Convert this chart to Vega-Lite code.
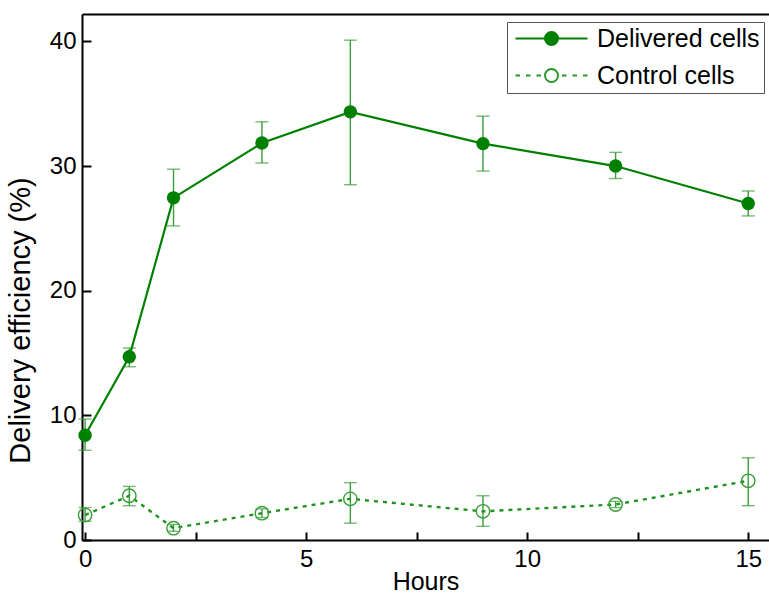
{
  "$schema": "https://vega.github.io/schema/vega-lite/v6.json",
  "width": 687,
  "height": 526,
  "autosize": {"type": "none"},
  "padding": {"left": 82, "top": 14, "right": 0, "bottom": 54},
  "background": "white",
  "data": {
    "values": [
      {"hours": 0, "series": "Delivered cells", "mean": 8.4, "lo": 7.2, "hi": 9.7},
      {"hours": 1, "series": "Delivered cells", "mean": 14.7, "lo": 13.9, "hi": 15.4},
      {"hours": 2, "series": "Delivered cells", "mean": 27.45, "lo": 25.2, "hi": 29.75},
      {"hours": 4, "series": "Delivered cells", "mean": 31.85, "lo": 30.25, "hi": 33.55},
      {"hours": 6, "series": "Delivered cells", "mean": 34.35, "lo": 28.5, "hi": 40.1},
      {"hours": 9, "series": "Delivered cells", "mean": 31.8, "lo": 29.6, "hi": 34.0},
      {"hours": 12, "series": "Delivered cells", "mean": 30.0, "lo": 29.0, "hi": 31.1},
      {"hours": 15, "series": "Delivered cells", "mean": 27.0, "lo": 26.0, "hi": 28.0},
      {"hours": 0, "series": "Control cells", "mean": 2.0, "lo": 1.5, "hi": 2.6},
      {"hours": 1, "series": "Control cells", "mean": 3.55, "lo": 2.75, "hi": 4.3},
      {"hours": 2, "series": "Control cells", "mean": 0.95, "lo": 0.7, "hi": 1.25},
      {"hours": 4, "series": "Control cells", "mean": 2.15, "lo": 1.8, "hi": 2.5},
      {"hours": 6, "series": "Control cells", "mean": 3.3, "lo": 1.35, "hi": 4.6},
      {"hours": 9, "series": "Control cells", "mean": 2.3, "lo": 1.1, "hi": 3.55},
      {"hours": 12, "series": "Control cells", "mean": 2.85, "lo": 2.6, "hi": 3.1},
      {"hours": 15, "series": "Control cells", "mean": 4.75, "lo": 2.75, "hi": 6.6}
    ]
  },
  "resolve": {"axis": {"x": "independent", "y": "independent"}},
  "layer": [
    {
      "mark": {"type": "rule", "color": "#3a9d3a", "strokeWidth": 1.4},
      "encoding": {
        "x": {"field": "hours", "type": "quantitative", "scale": {"domain": [-0.07, 15.47], "nice": false, "zero": false},
          "axis": {"orient": "top", "labels": false, "ticks": false, "title": null, "domainWidth": 2}},
        "y": {"field": "lo", "type": "quantitative", "scale": {"domain": [0, 42.2], "nice": false},
          "axis": {"values": [0, 10, 20, 30, 40], "tickSize": -9, "labelPadding": 15, "title": "Delivery efficiency (%)", "titleFontSize": 29, "titleX": -47, "titleY": 306}},
        "y2": {"field": "hi"}
      }
    },
    {
      "mark": {"type": "tick", "orient": "horizontal", "color": "#3a9d3a", "size": 13, "thickness": 1.4},
      "encoding": {
        "x": {"field": "hours", "type": "quantitative", "axis": null},
        "y": {"field": "lo", "type": "quantitative", "axis": null}
      }
    },
    {
      "mark": {"type": "tick", "orient": "horizontal", "color": "#3a9d3a", "size": 13, "thickness": 1.4},
      "encoding": {
        "x": {"field": "hours", "type": "quantitative", "axis": null},
        "y": {"field": "hi", "type": "quantitative", "axis": null}
      }
    },
    {
      "transform": [{"filter": "datum.series === 'Delivered cells'"}],
      "mark": {"type": "line", "strokeWidth": 2.2, "color": "#008000"},
      "encoding": {
        "x": {"field": "hours", "type": "quantitative",
          "axis": {"orient": "bottom", "values": [0, 2.5, 5, 7.5, 10, 12.5, 15], "labelExpr": "datum.value % 5 === 0 ? datum.label : ''", "tickSize": -8, "labelPadding": 15, "title": "Hours", "titleBaseline": "alphabetic", "titleY": 49}},
        "y": {"field": "mean", "type": "quantitative", "axis": null}
      }
    },
    {
      "transform": [{"filter": "datum.series === 'Control cells'"}],
      "mark": {"type": "line", "strokeWidth": 2.4, "color": "#1f931f", "strokeDash": [4, 5]},
      "encoding": {
        "x": {"field": "hours", "type": "quantitative", "axis": null},
        "y": {"field": "mean", "type": "quantitative", "axis": null}
      }
    },
    {
      "transform": [{"filter": "datum.series === 'Delivered cells'"}],
      "mark": {"type": "point", "shape": "circle", "size": 180, "filled": true, "opacity": 1, "color": "#008000"},
      "encoding": {
        "x": {"field": "hours", "type": "quantitative", "axis": null},
        "y": {"field": "mean", "type": "quantitative", "axis": null}
      }
    },
    {
      "transform": [{"filter": "datum.series === 'Control cells'"}],
      "mark": {"type": "point", "shape": "circle", "size": 180, "filled": false, "opacity": 1, "strokeWidth": 1.4, "stroke": "#3a9d3a"},
      "encoding": {
        "x": {"field": "hours", "type": "quantitative", "axis": null},
        "y": {"field": "mean", "type": "quantitative", "axis": null}
      }
    },
    {
      "transform": [{"filter": "datum.hours < -1"}],
      "mark": {"type": "point", "strokeWidth": 2},
      "encoding": {
        "x": {"field": "hours", "type": "quantitative", "axis": null},
        "y": {"field": "mean", "type": "quantitative", "axis": null},
        "fill": {"field": "series", "type": "nominal", "scale": {"domain": ["Delivered cells", "Control cells"], "range": ["#008000", "white"]}},
        "stroke": {"field": "series", "type": "nominal", "scale": {"domain": ["Delivered cells", "Control cells"], "range": ["#008000", "#2a972a"]}},
        "shape": {"field": "series", "type": "nominal",
          "scale": {"domain": ["Delivered cells", "Control cells"], "range": [
            "M-3.6,0L3.6,0M0.65,0A0.65,0.65,0,1,1,-0.65,0A0.65,0.65,0,1,1,0.65,0Z",
            "M-3.6,0L-3.15,0M-2.55,0L-2.1,0M-1.5,0L-1.05,0M1.05,0L1.5,0M2.1,0L2.55,0M3.15,0L3.6,0M0.65,0A0.65,0.65,0,1,1,-0.65,0A0.65,0.65,0,1,1,0.65,0Z"
          ]}}
      }
    }
  ],
  "config": {
    "font": "Liberation Sans",
    "view": {"stroke": null},
    "axis": {"grid": false, "domainColor": "black", "domainWidth": 2, "tickColor": "black", "tickWidth": 2, "labelColor": "black", "titleColor": "black", "labelFontSize": 24, "titleFontSize": 25, "titleFontWeight": "normal"},
    "legend": {
      "title": null, "orient": "none", "legendX": 425, "legendY": 8,
      "symbolSize": 400, "symbolStrokeWidth": 2, "symbolOpacity": 1, "symbolOffset": 28,
      "labelOffset": 33, "labelFontSize": 25, "labelColor": "black", "labelLimit": 400,
      "padding": 4, "rowPadding": 11,
      "strokeColor": "#555555", "fillColor": "white", "cornerRadius": 0
    }
  }
}
